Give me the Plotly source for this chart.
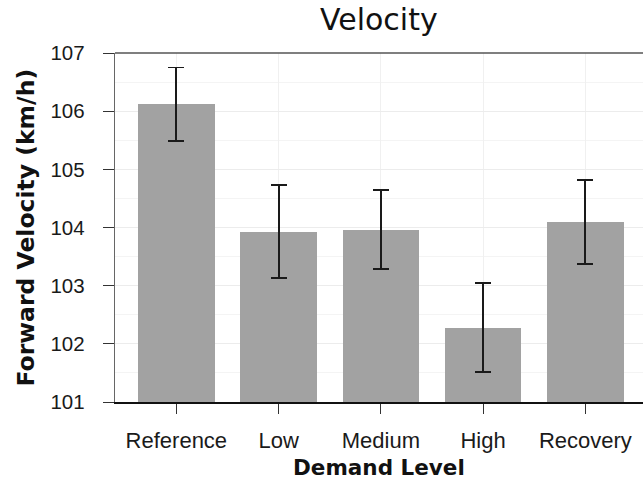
import plotly.graph_objects as go

categories = ["Reference", "Low", "Medium", "High", "Recovery"]
velocity = [106.12, 103.93, 103.96, 102.28, 104.09]
err = [0.63, 0.80, 0.68, 0.76, 0.72]
y_ticks = [101, 102, 103, 104, 105, 106, 107]

W, H = 643, 481
L, R, T, B = 115, 0, 53, 79
pw, ph = W - L - R, H - T - B

fig = go.Figure()
fig.add_trace(go.Bar(
    x=list(range(len(categories))), y=velocity,
    width=0.75,
    marker=dict(color="#A2A2A2", line=dict(width=0)),
    error_y=dict(type="data", array=err, visible=True, color="#1a1a1a", thickness=1.8, width=8),
))

fig.update_layout(
    width=W, height=H,
    margin=dict(l=L, r=R, t=T, b=B, autoexpand=False),
    paper_bgcolor="white", plot_bgcolor="white",
    showlegend=False,
    bargap=0,
    xaxis=dict(
        range=[-0.6, -0.6 + pw / 102.25],
        tickmode="array", tickvals=list(range(len(categories))), ticktext=categories,
        tickfont=dict(family="Liberation Sans", size=22, color="#1a1a1a"),
        ticks="outside", ticklen=10, tickwidth=1.4, tickcolor="#333",
        ticklabelstandoff=8,
        showline=True, linecolor="#111", linewidth=1.6,
        showgrid=True, gridcolor="#f0f0f0", gridwidth=1,
        zeroline=False, automargin=False,
    ),
    yaxis=dict(
        range=[101, 107],
        tickmode="array", tickvals=y_ticks, ticktext=[str(v) for v in y_ticks],
        tickfont=dict(family="Liberation Sans", size=20.5, color="#1a1a1a"),
        ticks="outside", ticklen=11, tickwidth=1.4, tickcolor="#333",
        ticklabelstandoff=14,
        showline=True, linecolor="#666", linewidth=1.4,
        showgrid=True, gridcolor="#ececec", gridwidth=1,
        minor=dict(dtick=0.5, tick0=101, showgrid=True, gridcolor="#f4f4f4", gridwidth=1, ticks=""),
        zeroline=False, automargin=False,
    ),
)

fig.add_shape(type="line", xref="paper", yref="paper", x0=0, x1=1, y0=1, y1=1,
              line=dict(color="#555", width=1.6))

fig.add_annotation(text="Velocity", xref="paper", yref="paper",
                   x=0.5, y=1 + (T - 39) / ph, xanchor="center", yanchor="bottom",
                   showarrow=False, font=dict(family="DejaVu Sans", size=30, color="#111"))
fig.add_annotation(text="<b>Forward Velocity (km/h)</b>", xref="paper", yref="paper",
                   x=(25 - L) / pw, y=0.5, xanchor="center", yanchor="middle", textangle=-90,
                   showarrow=False, font=dict(family="DejaVu Sans", size=23.5, color="#111"))
fig.add_annotation(text="<b>Demand Level</b>", xref="paper", yref="paper",
                   x=0.5, y=-(467 - (T + ph)) / ph, xanchor="center", yanchor="middle",
                   showarrow=False, font=dict(family="DejaVu Sans", size=21.5, color="#111"))

fig.write_html("out.html")
